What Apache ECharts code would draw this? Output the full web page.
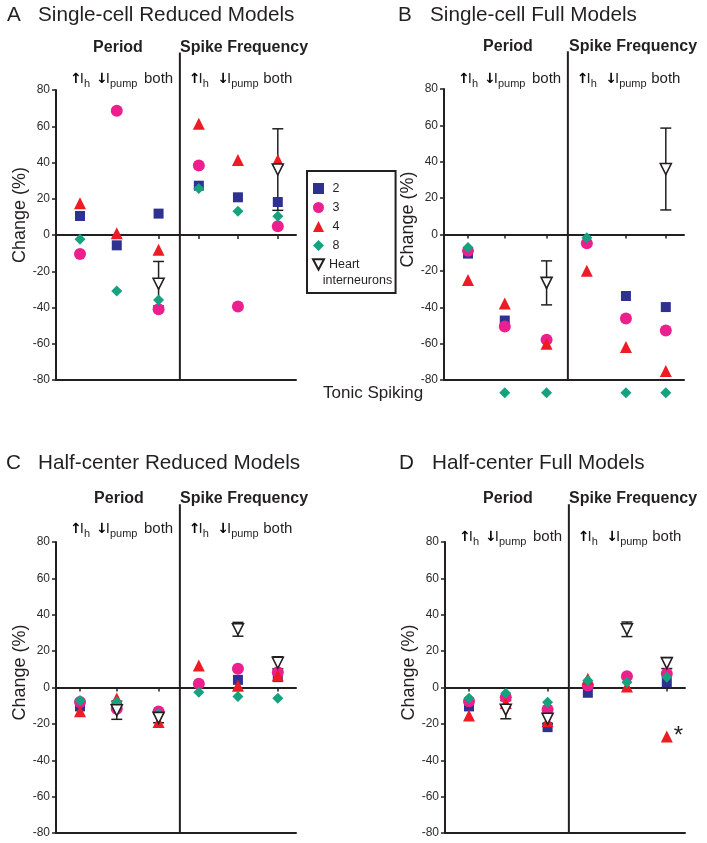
<!DOCTYPE html>
<html>
<head>
<meta charset="utf-8">
<script src="https://cdn.jsdelivr.net/npm/echarts@6/dist/echarts.min.js"></script>
<style>
html,body{margin:0;padding:0;background:#fff;}
#chart{width:707px;height:843px;}
</style>
</head>
<body>
<div id="chart"></div>
<script>
// ---------------- DATA ----------------
// x positions of the six conditions (Period: ↑Ih, ↓Ipump, both | Spike Frequency: ↑Ih, ↓Ipump, both)
const xPos = [0.62, 1.57, 2.65, 3.69, 4.70, 5.73];
const dividerX = 3.2;
const conditionLabels = ['up_h', 'down_pump', 'both', 'up_h', 'down_pump', 'both'];
const panelLetters = ['A', 'B', 'C', 'D'];
const panelTitles = ['Single-cell Reduced Models', 'Single-cell Full Models', 'Half-center Reduced Models', 'Half-center Full Models'];
const seriesNames = ['2', '3', '4', '8'];
const heartName = 'Heart interneurons';
const yMin = -80, yMax = 80, yStep = 20;

// Panel A: Single-cell Reduced Models
const A_2 = [10.5, -5.7, 11.8, 27.2, 20.8, 18.2];
const A_3 = [-10.5, 68.6, -41, 38.3, -39.5, 4.8];
const A_4 = [17.5, 0.9, -8.1, 61.4, 41.4, 41.4];
const A_8 = [-2.4, -30.9, -35.9, 25.6, 13.1, 10.3];
const A_heart = [null, null, -26.9, null, null, 36.1];
const A_heartErr = [null, null, 12.3, null, null, 22.5];

// Panel B: Single-cell Full Models
const B_2 = [-10.5, -47.3, null, null, -33.8, -39.9];
const B_3 = [-9, -50.6, -57.9, -4.8, -46.2, -52.8];
const B_4 = [-25, -37.9, -60.1, -19.9, -61.8, -75];
const B_8 = [-7.2, null, null, -1.8, null, null];
const B_8_tonic = [false, true, true, false, true, true];   // model 8 goes to tonic spiking
const B_heart = [null, null, -26.6, null, null, 36];
const B_heartErr = [null, null, 12.1, null, null, 22.5];

// Panel C: Half-center Reduced Models
const C_2 = [-10.4, null, null, null, 4.2, 5.7];
const C_3 = [-8, -11.7, -13.2, 2, 10.3, 8.4];
const C_4 = [-13, -6, -19, 12.1, 0.9, 6.6];
const C_8 = [-7.1, -8, -14.5, -2.6, -5, -5.9];
const C_heart = [null, -12.5, -16.7, null, 32, 13.6];
const C_heartErr = [null, 5, 2.7, null, 3.8, 3.3];

// Panel D: Half-center Full Models
const D_2 = [-10.4, null, -21.8, -2.9, null, 2.9];
const D_3 = [-7.5, -5.3, -12.1, 1.1, 6.2, 7.5];
const D_4 = [-15.4, -8.5, -18.5, 4.8, 0.5, -26.9];
const D_8 = [-5.9, -3.1, -8.1, 3.8, 2.9, 5.7];
const D_4_mark = [null, null, null, null, null, '*'];
const D_heart = [null, -12.2, -17.2, null, 32, 13.4];
const D_heartErr = [null, 5, 2.8, null, 4, 3];

// ---------------- STYLE / LAYOUT ----------------
const INK = '#231f20';
const FONT = 'Liberation Sans, Arial, Helvetica, sans-serif';
const colors = {'2': '#2e3192', '3': '#ec1f8e', '4': '#ed1c24', '8': '#14a27f'};
const symbols = {'2': 'rect', '3': 'circle', '4': 'triangle', '8': 'diamond'};
const sizes = {'2': 10, '3': 12, '4': 12, '8': 11};
const HEART_PATH = 'path://M0,0L10,0L5,9.5Z';
const TONIC_Y = -87;      // row below the axis for "Tonic Spiking"
const DIV_TOP = 100.7;    // divider rises above the plot top

const panels = [
  {vals: [A_2, A_3, A_4, A_8], heart: A_heart, err: A_heartErr},
  {vals: [B_2, B_3, B_4, B_8], heart: B_heart, err: B_heartErr, tonic: B_8_tonic},
  {vals: [C_2, C_3, C_4, C_8], heart: C_heart, err: C_heartErr},
  {vals: [D_2, D_3, D_4, D_8], heart: D_heart, err: D_heartErr, mark4: D_4_mark}
];

const grids = [
  {left: 56, top: 90, width: 240, height: 290},
  {left: 444, top: 89, width: 240, height: 291},
  {left: 56, top: 542, width: 240, height: 291},
  {left: 445, top: 542, width: 240, height: 291}
];
const topLabelMargin = [1, 0, 3, -5];
const yNameShift = [40, 30, 30, 30];

function topLabel(v) {
  let idx = xPos.findIndex(p => Math.abs(p - v) < 1e-6);
  const c = conditionLabels[idx];
  if (c === 'up_h') return '{ar|↑}{t|I}{s|h}';
  if (c === 'down_pump') return '{ar|↓}{t|I}{s|pump}';
  return '{t|both}';
}

const xAxes = [], yAxes = [], series = [];
grids.forEach((g, i) => {
  // zero axis with ticks
  xAxes.push({
    gridIndex: i, type: 'value', min: 0, max: 6.2, position: 'bottom',
    axisLine: {show: true, onZero: true, lineStyle: {color: INK, width: 2}},
    axisTick: {show: true, customValues: xPos, length: 4, lineStyle: {color: INK, width: 1.5}},
    axisLabel: {show: false}, splitLine: {show: false}
  });
  // bottom frame line at -80
  xAxes.push({
    gridIndex: i, type: 'value', min: 0, max: 6.2, position: 'bottom',
    axisLine: {show: true, onZero: false, lineStyle: {color: INK, width: 2}},
    axisTick: {show: false}, axisLabel: {show: false}, splitLine: {show: false}
  });
  // top condition labels
  xAxes.push({
    gridIndex: i, type: 'value', min: 0, max: 6.2, position: 'top',
    axisLine: {show: false}, axisTick: {show: false}, splitLine: {show: false},
    axisLabel: {
      show: true, customValues: xPos, margin: topLabelMargin[i],
      formatter: topLabel,
      rich: {
        ar: {fontSize: 14, fontWeight: 'bold', fontFamily: 'DejaVu Sans', color: '#000', lineHeight: 20, padding: [0, -2, 0, 0]},
        t: {fontSize: 15, fontFamily: FONT, color: INK, lineHeight: 20},
        s: {fontSize: 11, fontFamily: FONT, color: INK, lineHeight: 11, verticalAlign: 'bottom'}
      }
    }
  });
  yAxes.push({
    gridIndex: i, type: 'value', min: yMin, max: yMax, interval: yStep,
    axisLine: {show: true, onZero: false, lineStyle: {color: INK, width: 2}},
    axisTick: {show: true, length: 4, lineStyle: {color: INK, width: 1.5}},
    axisLabel: {fontSize: 12, margin: 6, color: '#2b2b2b', fontFamily: FONT},
    splitLine: {show: false},
    name: 'Change (%)', nameLocation: 'middle', nameGap: 22,
    nameTextStyle: {fontSize: 18, color: INK, fontFamily: FONT, padding: [0, 0, 0, yNameShift[i]]}
  });

  const p = panels[i];
  const xi = i * 3;
  seriesNames.forEach((name, k) => {
    const data = [];
    p.vals[k].forEach((v, j) => {
      if (v == null) return;
      const item = {value: [xPos[j], v]};
      if (name === '4' && p.mark4 && p.mark4[j]) {
        item.label = {show: true, formatter: p.mark4[j], position: 'right', distance: 1,
          fontSize: 24, color: INK, fontFamily: FONT};
      }
      data.push(item);
    });
    if (name === '8' && p.tonic) {
      p.tonic.forEach((t, j) => { if (t) data.push({value: [xPos[j], TONIC_Y]}); });
    }
    series.push({
      type: 'scatter', name: name, xAxisIndex: xi, yAxisIndex: i,
      symbol: symbols[name], symbolSize: sizes[name], clip: false,
      itemStyle: {color: colors[name], opacity: 1},
      emphasis: {disabled: true},
      data: data
    });
  });
  // heart interneuron means
  const hData = [], eData = [];
  p.heart.forEach((v, j) => {
    if (v == null) return;
    hData.push([xPos[j], v]);
    eData.push([xPos[j], v, p.err[j]]);
  });
  series.push({
    type: 'scatter', name: heartName, xAxisIndex: xi, yAxisIndex: i,
    symbol: HEART_PATH, symbolSize: [11, 11], clip: false,
    itemStyle: {color: '#ffffff', borderColor: INK, borderWidth: 1.6, opacity: 1},
    emphasis: {disabled: true},
    data: hData
  });
  // error bars
  series.push({
    type: 'custom', name: 'heart-sd', xAxisIndex: xi, yAxisIndex: i, silent: true,
    data: eData,
    renderItem: function (params, api) {
      const x = api.value(0), m = api.value(1), e = api.value(2);
      const t = api.coord([x, m + e]), b = api.coord([x, m - e]);
      const hw = 5.5;
      const st = {stroke: INK, lineWidth: 1.5, fill: null};
      return {type: 'group', children: [
        {type: 'line', shape: {x1: t[0], y1: t[1], x2: b[0], y2: b[1]}, style: st},
        {type: 'line', shape: {x1: t[0] - hw, y1: t[1], x2: t[0] + hw, y2: t[1]}, style: st},
        {type: 'line', shape: {x1: b[0] - hw, y1: b[1], x2: b[0] + hw, y2: b[1]}, style: st}
      ]};
    }
  });
  // Period / Spike Frequency divider
  series.push({
    type: 'custom', name: 'divider', xAxisIndex: xi, yAxisIndex: i, silent: true,
    data: [[dividerX, yMin, DIV_TOP]],
    renderItem: function (params, api) {
      const a = api.coord([api.value(0), api.value(1)]);
      const b = api.coord([api.value(0), api.value(2)]);
      return {type: 'line', shape: {x1: a[0], y1: a[1], x2: b[0], y2: b[1]},
        style: {stroke: INK, lineWidth: 2}};
    }
  });
});

// text layout
const letterPos = [[7, 15], [398, 15], [6, 463], [399, 463]];
const titlePos = [[38, 15], [430, 15], [38, 463], [432, 463]];
const periodPos = [[118, 48], [508, 47], [119, 499], [508, 499]];
const spikePos = [[180, 48], [569, 47], [180, 499], [569, 499]];
const graphics = [];
for (let i = 0; i < 4; i++) {
  graphics.push({type: 'text', x: letterPos[i][0], y: letterPos[i][1], z: 100,
    style: {text: panelLetters[i], fill: INK, fontSize: 20.7, fontFamily: FONT, align: 'left', verticalAlign: 'middle'}});
  graphics.push({type: 'text', x: titlePos[i][0], y: titlePos[i][1], z: 100,
    style: {text: panelTitles[i], fill: INK, fontSize: 20.7, fontFamily: FONT, align: 'left', verticalAlign: 'middle'}});
  graphics.push({type: 'text', x: periodPos[i][0], y: periodPos[i][1], z: 100,
    style: {text: 'Period', fill: INK, fontSize: 16, fontWeight: 'bold', fontFamily: FONT, align: 'center', verticalAlign: 'middle'}});
  graphics.push({type: 'text', x: spikePos[i][0], y: spikePos[i][1], z: 100,
    style: {text: 'Spike Frequency', fill: INK, fontSize: 16, fontWeight: 'bold', fontFamily: FONT, align: 'left', verticalAlign: 'middle'}});
}
graphics.push({type: 'text', x: 323, y: 393, z: 100,
  style: {text: 'Tonic Spiking', fill: INK, fontSize: 17, fontFamily: FONT, align: 'left', verticalAlign: 'middle'}});
graphics.push({type: 'text', x: 322.7, y: 281, z: 100,
  style: {text: 'interneurons', fill: INK, fontSize: 12.5, fontFamily: FONT, align: 'left', verticalAlign: 'middle'}});

const chart = echarts.init(document.getElementById('chart'), null, {renderer: 'canvas'});
chart.setOption({
  animation: false,
  backgroundColor: '#ffffff',
  textStyle: {fontFamily: FONT},
  grid: grids.map(g => Object.assign({containLabel: false}, g)),
  xAxis: xAxes,
  yAxis: yAxes,
  legend: {
    show: true, orient: 'vertical', left: 307, top: 171,
    itemWidth: 11, itemHeight: 11, itemGap: 6,
    padding: [11, 36, 22, 5],
    borderColor: INK, borderWidth: 2, backgroundColor: 'transparent',
    selectedMode: false,
    textStyle: {fontSize: 12.5, color: INK, fontFamily: FONT},
    formatter: name => name === heartName ? 'Heart' : ' ' + name,
    data: [
      {name: '2', icon: 'rect'},
      {name: '3', icon: 'circle'},
      {name: '4', icon: 'triangle'},
      {name: '8', icon: 'diamond'},
      {name: heartName, icon: HEART_PATH}
    ]
  },
  graphic: graphics,
  series: series
});
</script>
</body>
</html>
